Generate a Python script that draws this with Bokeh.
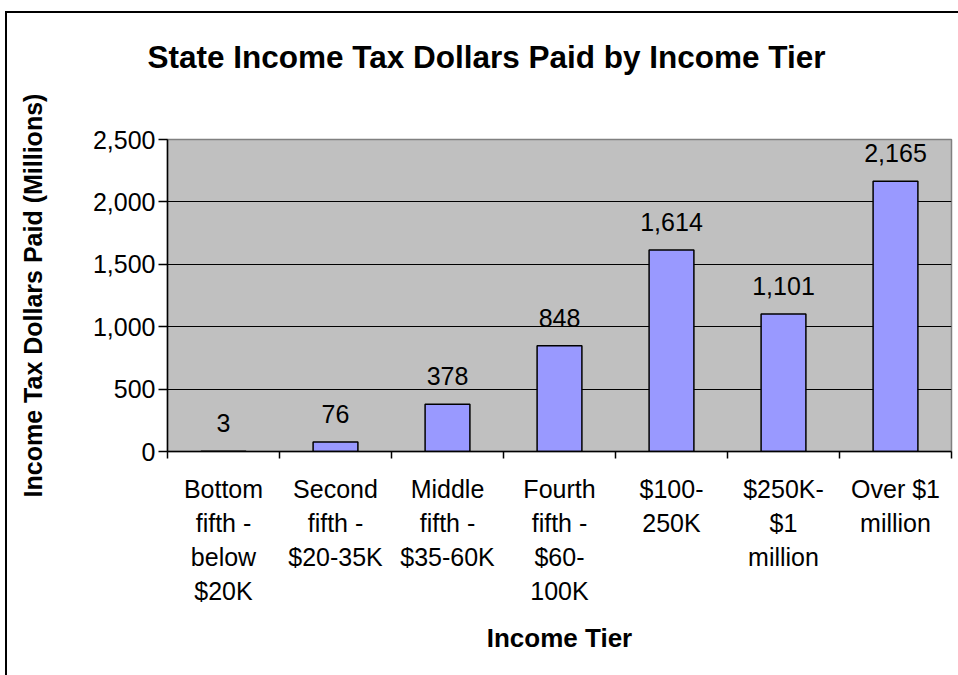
from bokeh.plotting import figure
from bokeh.models import (ColumnDataSource, Range1d, FixedTicker, NumeralTickFormatter, LabelSet, Title)
from bokeh.core.properties import value
from bokeh.embed import file_html
from bokeh.resources import INLINE

categories = ["Bottom\nfifth -\nbelow\n$20K", "Second\nfifth -\n$20-35K", "Middle\nfifth -\n$35-60K",
              "Fourth\nfifth -\n$60-\n100K", "$100-\n250K", "$250K-\n$1\nmillion", "Over $1\nmillion"]
values = [3, 76, 378, 848, 1614, 1101, 2165]
y_ticks = [0, 500, 1000, 1500, 2000, 2500]
title_text = "State Income Tax Dollars Paid by Income Tier"
y_label = "Income Tax Dollars Paid (Millions)"
x_label = "Income Tier"

FONT = "Liberation Sans"
n = len(categories)
centers = [i + 0.5 for i in range(n)]
bounds = list(range(n + 1))

src = ColumnDataSource(dict(x=centers, top=values, lab=[f"{v:,}" for v in values]))

p = figure(width=958, height=675, output_backend="svg", toolbar_location=None, title=None,
           x_range=Range1d(0, n), y_range=Range1d(0, 2500),
           frame_width=784, frame_height=312,
           min_border_left=167, min_border_right=7, min_border_top=139, min_border_bottom=224)
# outer chart border (left and top edges) drawn as host background lines
p.styles = {
    "background-image": "linear-gradient(#000, #000), linear-gradient(#000, #000)",
    "background-size": "2px 100%, 100% 2px",
    "background-position": "5px 11px, 5px 11px",
    "background-repeat": "no-repeat",
}
p.background_fill_color = "#C0C0C0"
p.border_fill_alpha = 0
p.outline_line_color = "#808080"
p.outline_line_width = 1.5

p.vbar(x="x", top="top", width=0.4, bottom=0, source=src,
       fill_color="#9999FF", line_color="black", line_width=1.5)

# spacing between plot area and title, then the title itself
p.add_layout(Title(text=" ", text_font_size="20px", standoff=41), "above")
p.add_layout(Title(text=title_text, align="left", offset=-20, standoff=0,
                   text_font=FONT, text_font_size="31.5px", text_font_style="bold",
                   text_color="black"), "above")

# x axis: labels at category centres, ticks at category boundaries
xa = p.xaxis[0]
xa.ticker = FixedTicker(ticks=centers, minor_ticks=bounds)
xa.major_label_overrides = {c: lab for c, lab in zip(centers, categories)}
xa.major_tick_out = 0
xa.major_tick_in = 0
xa.minor_tick_out = 7
xa.minor_tick_in = 0
xa.minor_tick_line_color = "black"
xa.minor_tick_line_width = 1.5
xa.axis_line_color = "black"
xa.axis_line_width = 1.5
xa.major_label_text_font = FONT
xa.major_label_text_font_size = "25px"
xa.major_label_text_color = "black"
xa.major_label_text_line_height = 1.22
xa.major_label_standoff = 16
xa.axis_label = x_label
xa.axis_label_text_font = FONT
xa.axis_label_text_font_size = "26px"
xa.axis_label_text_font_style = "bold"
xa.axis_label_text_color = "black"
xa.axis_label_standoff = 15

ya = p.yaxis[0]
ya.ticker = FixedTicker(ticks=y_ticks, minor_ticks=[])
ya.formatter = NumeralTickFormatter(format="0,0")
ya.major_tick_out = 9
ya.major_tick_in = 0
ya.major_tick_line_color = "black"
ya.major_tick_line_width = 1.5
ya.axis_line_color = "black"
ya.axis_line_width = 1.5
ya.major_label_text_font = FONT
ya.major_label_text_font_size = "25px"
ya.major_label_text_color = "black"
ya.major_label_standoff = 3
ya.axis_label = y_label
ya.axis_label_text_font = FONT
ya.axis_label_text_font_size = "25px"
ya.axis_label_text_font_style = "bold"
ya.axis_label_text_color = "black"
ya.axis_label_standoff = 43

p.xgrid.visible = False
p.ygrid.ticker = FixedTicker(ticks=y_ticks[1:-1])
p.ygrid.grid_line_color = "black"
p.ygrid.grid_line_width = 1.2

# value labels
p.add_layout(LabelSet(x="x", y="top", text="lab", source=src, y_offset=19,
                      text_align="center", text_baseline="alphabetic",
                      text_font=value(FONT), text_font_size=value("25px"), text_color="black"))

open("out.html", "w").write(file_html(p, INLINE))
